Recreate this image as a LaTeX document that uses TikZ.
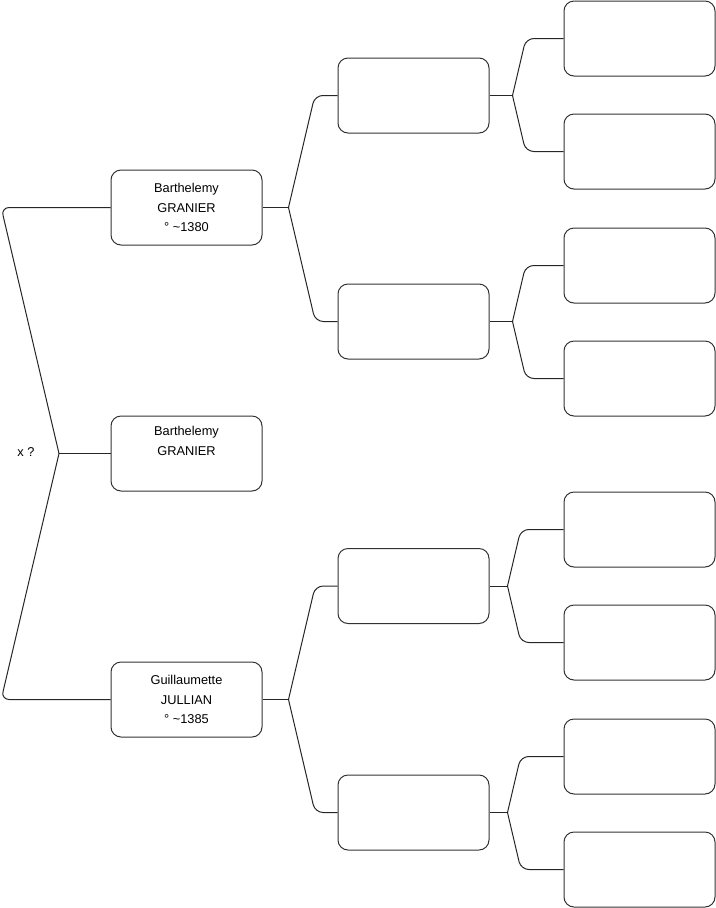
\documentclass[tikz,border=0pt]{standalone}
\usepackage{fontspec}
\setmainfont{Liberation Sans}
\usetikzlibrary{calc, positioning}

\begin{document}
\begin{tikzpicture}[
    x=0.75pt, y=-0.75pt,
    person/.style={rectangle, rounded corners=7.5pt, draw=black!80,
                   line width=0.75pt, fill=white, align=center,
                   minimum width=113.25pt, minimum height=56.25pt,
                   inner sep=0pt, font=\fontsize{9.6}{14.6}\selectfont},
    link/.style={draw=black!85, line width=0.75pt, rounded corners=6pt},
    branch/.style={to path={let \p1=(\tikztostart), \p2=(\tikztotarget) in
                   -- ({\x1+#1*abs(\y2-\y1)},\y2) -- (\tikztotarget)}},
    branch/.default=0.235,
  ]
    \useasboundingbox (0,0) rectangle (716,908);

    % generation 1
    \node[person] (pere)  at (186.5,207.5) {Barthelemy\\ GRANIER\\ ° \textasciitilde1380};
    \node[person] (sujet) at (186.5,453.5) {Barthelemy\\ GRANIER\\ \strut};
    \node[person] (mere)  at (186.5,699.5) {Guillaumette\\ JULLIAN\\ ° \textasciitilde1385};
    \node[font=\fontsize{9.6}{14.6}\selectfont] (mariage) at (26,452) {x ?};

    % generation 2
    \node[person] (pp) at (413.5,95.5)  {};
    \node[person] (pm) at (413.5,321.5) {};
    \node[person] (mp) at (413.5,586)   {};
    \node[person] (mm) at (413.5,812.5) {};

    % generation 3
    \node[person] (ppp) at (639.5,38.5)  {};
    \node[person] (ppm) at (639.5,151.5) {};
    \node[person] (pmp) at (639.5,265.5) {};
    \node[person] (pmm) at (639.5,378.5) {};
    \node[person] (mpp) at (639.5,529.5) {};
    \node[person] (mpm) at (639.5,642.5) {};
    \node[person] (mmp) at (639.5,756.5) {};
    \node[person] (mmm) at (639.5,869.5) {};

    % forks
    \coordinate (f0)  at (59,453.5);
    \coordinate (fp)  at ($(pere.east)+(26,0)$);
    \coordinate (fm)  at ($(mere.east)+(26,0)$);
    \coordinate (fpp) at ($(pp.east)+(23,0)$);
    \coordinate (fpm) at ($(pm.east)+(23,0)$);
    \coordinate (fmp) at ($(mp.east)+(18,0)$);
    \coordinate (fmm) at ($(mm.east)+(18,0)$);

    % couple
    \draw[link] (f0) -- (sujet.west);
    \draw[link] (f0) to[branch=-0.235] (pere.west);
    \draw[link] (f0) to[branch=-0.235] (mere.west);

    % parents
    \draw[link] (pere.east) -- (fp);
    \draw[link] (fp) to[branch] (pp.west);
    \draw[link] (fp) to[branch] (pm.west);
    \draw[link] (mere.east) -- (fm);
    \draw[link] (fm) to[branch] (mp.west);
    \draw[link] (fm) to[branch] (mm.west);

    % grandparents
    \draw[link] (pp.east) -- (fpp);
    \draw[link] (fpp) to[branch] (ppp.west);
    \draw[link] (fpp) to[branch] (ppm.west);
    \draw[link] (pm.east) -- (fpm);
    \draw[link] (fpm) to[branch] (pmp.west);
    \draw[link] (fpm) to[branch] (pmm.west);
    \draw[link] (mp.east) -- (fmp);
    \draw[link] (fmp) to[branch] (mpp.west);
    \draw[link] (fmp) to[branch] (mpm.west);
    \draw[link] (mm.east) -- (fmm);
    \draw[link] (fmm) to[branch] (mmp.west);
    \draw[link] (fmm) to[branch] (mmm.west);
\end{tikzpicture}
\end{document}
